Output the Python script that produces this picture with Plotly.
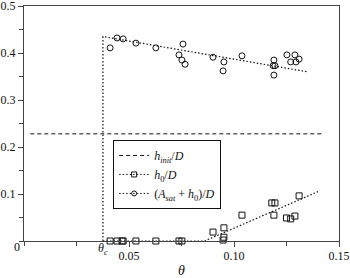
import plotly.graph_objects as go

# ---- data ----
theta_c = 0.0376
h_init = 0.228
h_init_x = [0.003, 0.142]

circ_theta = [0.041, 0.0443, 0.0472, 0.0533, 0.0628, 0.0738, 0.0752, 0.0757, 0.0767,
              0.090, 0.0948, 0.0952, 0.1038, 0.1186, 0.119, 0.1195, 0.119, 0.1252,
              0.127, 0.129, 0.1295, 0.131]
circ_val = [0.411, 0.432, 0.430, 0.421, 0.411, 0.396, 0.385, 0.419, 0.376,
            0.391, 0.362, 0.381, 0.394, 0.373, 0.385, 0.373, 0.353, 0.396,
            0.381, 0.396, 0.381, 0.387]

sq_theta = [0.041, 0.0443, 0.0472, 0.0467, 0.0533, 0.0628, 0.0738, 0.0752,
            0.090, 0.0952, 0.0952, 0.0948, 0.1038, 0.118, 0.1195, 0.119,
            0.125, 0.127, 0.129, 0.131]
sq_val = [0.0, 0.0, 0.0, 0.0, 0.0, 0.0, 0.0, 0.0,
          0.019, 0.028, 0.008, 0.002, 0.055, 0.081, 0.081, 0.055,
          0.049, 0.047, 0.053, 0.096]

asat_fit_x = [theta_c, theta_c, 0.135]
asat_fit_y = [0.0, 0.435, 0.360]
h0_fit_x = [theta_c, 0.086, 0.140]
h0_fit_y = [0.0, 0.0, 0.105]

x_ticks = [0.05, 0.10, 0.15]
x_ticktext = ["0.05", "0.10", "0.15"]
y_ticks = [0.1, 0.2, 0.3, 0.4, 0.5]
y_ticktext = ["0.1", "0.2", "0.3", "0.4", "0.5"]

FONT = "Liberation Serif"
BLACK = "#111"
AX = "#444"

fig = go.Figure()

fig.add_trace(go.Scatter(x=h_init_x, y=[h_init, h_init], mode="lines",
                         line=dict(color=BLACK, width=1, dash="4px,3px"),
                         showlegend=False, hoverinfo="skip"))
fig.add_trace(go.Scatter(x=asat_fit_x, y=asat_fit_y, mode="lines",
                         line=dict(color=BLACK, width=1.2, dash="1.5px,2px"),
                         showlegend=False))
fig.add_trace(go.Scatter(x=h0_fit_x, y=h0_fit_y, mode="lines",
                         line=dict(color=BLACK, width=1.2, dash="1.5px,2px"),
                         showlegend=False))
fig.add_trace(go.Scatter(x=circ_theta, y=circ_val, mode="markers",
                         marker=dict(symbol="circle-open", size=6, color=BLACK,
                                     line=dict(width=1, color=BLACK)),
                         showlegend=False, cliponaxis=False))
fig.add_trace(go.Scatter(x=sq_theta, y=sq_val, mode="markers",
                         marker=dict(symbol="square-open", size=6, color=BLACK,
                                     line=dict(width=1, color=BLACK)),
                         showlegend=False, cliponaxis=False))

fig.add_trace(go.Scatter(x=[None], y=[None], mode="lines",
                         line=dict(color=BLACK, width=1, dash="4px,3px"),
                         name="<i>h<sub>init</sub></i>/<i>D</i>"))
fig.add_trace(go.Scatter(x=[None], y=[None], mode="lines+markers",
                         line=dict(color=BLACK, width=1, dash="1.5px,2px"),
                         marker=dict(symbol="square-open", size=5, color=BLACK),
                         name="<i>h</i><sub>0</sub>/<i>D</i>"))
fig.add_trace(go.Scatter(x=[None], y=[None], mode="lines+markers",
                         line=dict(color=BLACK, width=1, dash="1.5px,2px"),
                         marker=dict(symbol="circle-open", size=5, color=BLACK),
                         name="(<i>A<sub>sat</sub></i> + <i>h</i><sub>0</sub>)/<i>D</i>"))

fig.update_layout(
    width=350, height=278,
    margin=dict(l=24, r=11, t=6, b=37),
    paper_bgcolor="white", plot_bgcolor="white",
    font=dict(family=FONT, size=12, color=BLACK),
    showlegend=True,
    legend=dict(x=0.283, y=0.43, xanchor="left", yanchor="top",
                bordercolor=BLACK, borderwidth=1, bgcolor="white",
                font=dict(family=FONT, size=12, color=BLACK),
                itemwidth=30, tracegroupgap=0),
    xaxis=dict(range=[0, 0.15], tickvals=x_ticks, ticktext=x_ticktext,
               tickfont=dict(size=12, family=FONT, color=BLACK),
               showgrid=False, zeroline=False, showline=True, linecolor=AX,
               linewidth=1, mirror=True, ticks="outside", ticklen=5, tickcolor=AX,
               minor=dict(dtick=0.025, tick0=0, ticks="outside", ticklen=4, tickcolor=AX),
               ticklabeloverflow="allow", ticklabelstandoff=-1,
               title=dict(text="<i>θ</i>", font=dict(size=14, family=FONT), standoff=4),
               automargin=False),
    yaxis=dict(range=[0, 0.5], tickvals=y_ticks, ticktext=y_ticktext,
               tickfont=dict(size=12, family=FONT, color=BLACK),
               showgrid=False, zeroline=False, showline=True, linecolor=AX,
               linewidth=1, mirror=True, ticks="outside", ticklen=5, tickcolor=AX,
               minor=dict(dtick=0.05, tick0=0, ticks="outside", ticklen=4, tickcolor=AX),
               ticklabeloverflow="allow",
               automargin=False),
)

fig.add_annotation(x=0, y=0, xref="paper", yref="paper", text="0", showarrow=False,
                   xshift=-12, yshift=-15, font=dict(size=12, family=FONT))
fig.add_annotation(x=theta_c, y=0, xref="x", yref="paper", text="<i>θ<sub>c</sub></i>",
                   showarrow=False, yshift=-18, xshift=0, font=dict(size=12, family=FONT))

fig.write_html("out.html", config={"displayModeBar": False},
               post_script="document.body.style.margin='0';")
